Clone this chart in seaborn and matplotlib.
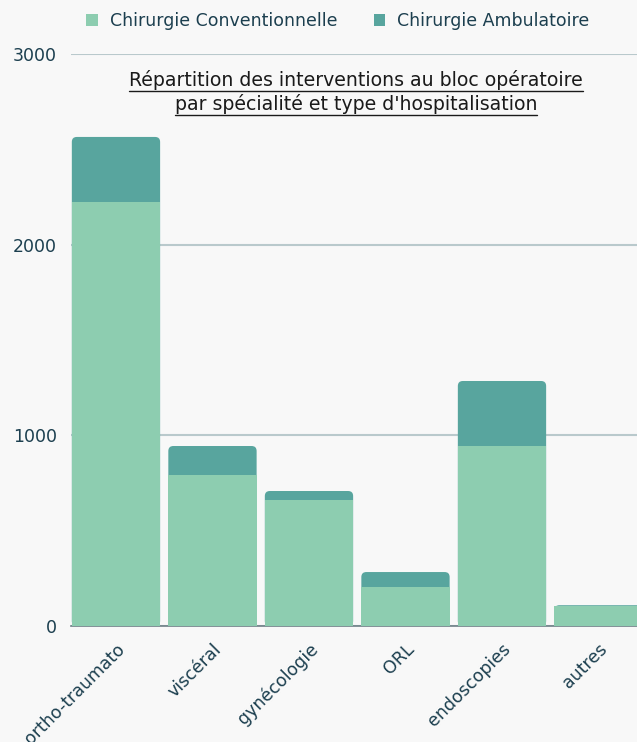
import matplotlib
matplotlib.use("Agg")
import matplotlib.pyplot as plt
from matplotlib.patches import Patch, FancyBboxPatch
from matplotlib.lines import Line2D
import seaborn as sns
import pandas as pd

categories = ["ortho-traumato", "viscéral", "gynécologie", "ORL", "endoscopies", "autres"]
conventionnelle = [2224, 792, 661, 205, 944, 105]
ambulatoire = [341, 152, 47, 78, 341, 4]
series_labels = ["Chirurgie Conventionnelle", "Chirurgie Ambulatoire"]
title_lines = ["Répartition des interventions au bloc opératoire",
               "par spécialité et type d'hospitalisation"]
yticks = [0, 1000, 2000, 3000]

C_CONV = "#8DCDB0"
C_AMB = "#58A59E"
BG = "#F8F8F8"
TXT = "#1C3F4F"
GRID = "#B9C9CC"
FS = 12.5

sns.set_theme(style="white")
plt.rcParams["font.family"] = ["DejaVu Sans"]

df = pd.DataFrame({"cat": categories, "conv": conventionnelle, "amb": ambulatoire})
df["total"] = df["conv"] + df["amb"]

fig = plt.figure(figsize=(6.37, 7.42), dpi=100, facecolor=BG)
W, H = 637, 742
ax_left, ax_right = 71, 637
y0, y3000 = 626, 54
ax = fig.add_axes([ax_left / W, (H - y0) / H, (ax_right - ax_left) / W, (y0 - y3000) / H])
ax.set_facecolor(BG)

sns.barplot(data=df, x="cat", y="total", color=C_AMB, saturation=1, width=0.915, ax=ax, zorder=2)
n_total = len(ax.patches)
sns.barplot(data=df, x="cat", y="conv", color=C_CONV, saturation=1, width=0.915, ax=ax, zorder=3)

ax.set_ylim(0, 3000)
ax.set_xlim(-0.466, 5.399)

# rounded top corners for total bars
px_x = (ax.get_xlim()[1] - ax.get_xlim()[0]) / (ax_right - ax_left)
px_y = 3000 / (y0 - y3000)
r_px = 5
for p in list(ax.patches[:n_total]):
    x, y, w, h = p.get_x(), p.get_y(), p.get_width(), p.get_height()
    col = p.get_facecolor()
    p.set_visible(False)
    fb = FancyBboxPatch((x, y), w, h,
                        boxstyle=f"round,pad=0,rounding_size={r_px * px_x}",
                        mutation_aspect=px_y / px_x,
                        facecolor=col, edgecolor="none", zorder=2)
    ax.add_patch(fb)
for p in ax.patches[n_total:n_total + len(categories)]:
    p.set_edgecolor("none")

ax.set_yticks(yticks)
ax.set_yticklabels([str(v) for v in yticks])
ax.yaxis.grid(True, color=GRID, linewidth=1.5, zorder=0)
ax.set_axisbelow(True)
ax.tick_params(axis="y", length=0, pad=10, labelsize=FS, labelcolor=TXT)
ax.tick_params(axis="x", length=0, pad=10, labelsize=FS, labelcolor=TXT)
for lab in ax.get_xticklabels():
    lab.set_rotation(45)
    lab.set_ha("right")
    lab.set_va("top")
    lab.set_rotation_mode("anchor")
ax.set_xlabel("")
ax.set_ylabel("")
for s in ["top", "right", "left"]:
    ax.spines[s].set_visible(False)
ax.spines["bottom"].set_color("#6E7F86")
ax.spines["bottom"].set_linewidth(1.2)
ax.spines["bottom"].set_zorder(1)

# legend
handles = [Patch(facecolor=C_CONV, edgecolor="none"), Patch(facecolor=C_AMB, edgecolor="none")]
fig.legend(handles, series_labels, loc="center", bbox_to_anchor=(338 / W, 1 - 21 / H), ncol=2,
           frameon=False, fontsize=FS, labelcolor=TXT, handlelength=0.65, handleheight=0.65,
           handletextpad=0.7, columnspacing=2.1)

# title with underline
TFS = 13.6
t1 = fig.text(356 / W, 1 - 80 / H, title_lines[0], ha="center", va="center", fontsize=TFS, color="#1a1a1a")
t2 = fig.text(356 / W, 1 - 104 / H, title_lines[1], ha="center", va="center", fontsize=TFS, color="#1a1a1a")
fig.canvas.draw()
r = fig.canvas.get_renderer()
for t, yl in ((t1, 91), (t2, 115)):
    bb = t.get_window_extent(renderer=r)
    fig.add_artist(Line2D([bb.x0 / W, bb.x1 / W], [1 - yl / H, 1 - yl / H],
                          transform=fig.transFigure, color="#1a1a1a", linewidth=1))

fig.savefig("out.png", dpi=100, facecolor=BG)
